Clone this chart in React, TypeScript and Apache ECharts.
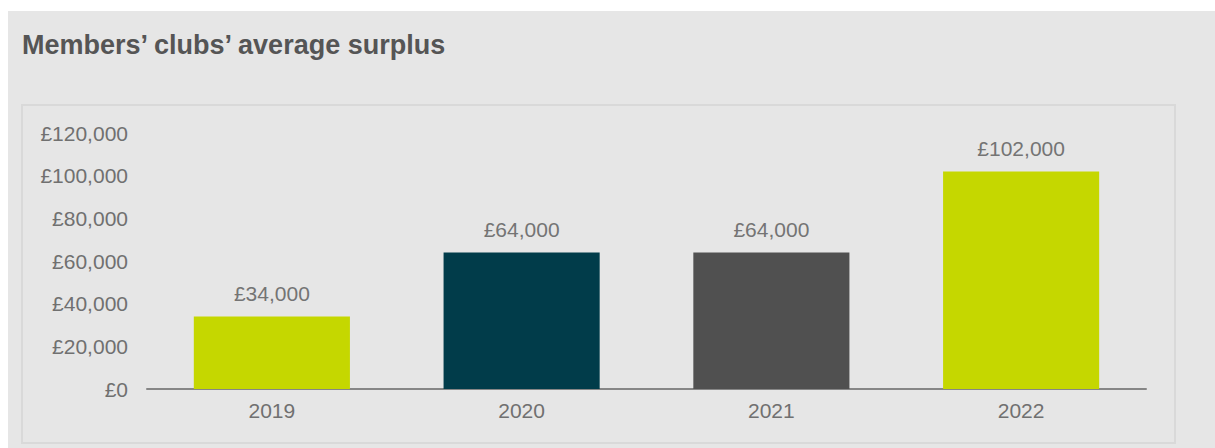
import React, { useEffect, useRef } from "react";
import * as echarts from "echarts";

const title = "Members’ clubs’ average surplus";
const categories = ["2019", "2020", "2021", "2022"];
const values = [34000, 64000, 64000, 102000];
const barColors = ["#c5d700", "#013c4a", "#505050", "#c5d700"];

const fmt = (v: number) => "£" + v.toLocaleString("en-GB");
const FONT = "'Liberation Sans', Arial, sans-serif";

export default function App() {
  const ref = useRef<HTMLDivElement>(null);
  useEffect(() => {
    const chart = echarts.init(ref.current!, null, { renderer: "svg" });
    chart.setOption({
      animation: false,
      backgroundColor: "#ffffff",
      graphic: [
        { type: "rect", z: -10, shape: { x: 8, y: 11, width: 1207, height: 437 }, style: { fill: "#e6e6e6" } },
        { type: "rect", z: -9, shape: { x: 22, y: 105, width: 1153, height: 338 }, style: { fill: "#e6e6e6", stroke: "#d9d9d9", lineWidth: 2 } },
        {
          type: "text",
          left: 22,
          top: 31,
          style: { text: title, fill: "#555555", font: "bold 27px 'Liberation Sans', Arial, sans-serif" },
        },
      ],
      grid: { left: 147, right: 69, top: 133, bottom: 59 },
      xAxis: {
        type: "category",
        data: categories,
        axisLine: { lineStyle: { color: "#868686", width: 2 } },
        axisTick: { show: false },
        axisLabel: { color: "#707070", fontSize: 21, margin: 11, fontFamily: FONT },
      },
      yAxis: {
        type: "value",
        min: 0,
        max: 120000,
        interval: 20000,
        splitLine: { show: false },
        axisLine: { show: false },
        axisTick: { show: false },
        axisLabel: { color: "#707070", fontSize: 21, margin: 19, formatter: fmt, fontFamily: FONT },
      },
      series: [
        {
          type: "bar",
          barWidth: "62.5%",
          data: values.map((v, i) => ({ value: v, itemStyle: { color: barColors[i] } })),
          label: {
            show: true,
            position: "top",
            distance: 12,
            color: "#747474",
            fontSize: 21,
            fontFamily: FONT,
            formatter: (p: any) => fmt(p.value),
          },
        },
      ],
    });
    return () => chart.dispose();
  }, []);
  return <div ref={ref} style={{ position: "fixed", left: 0, top: 0, width: 1215, height: 448 }} />;
}
